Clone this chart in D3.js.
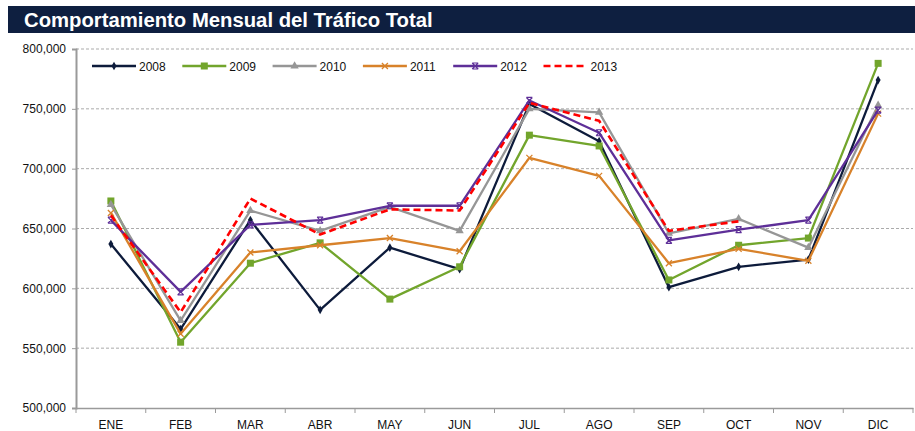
<!DOCTYPE html>
<html>
<head>
<meta charset="utf-8">
<script src="https://cdn.jsdelivr.net/npm/d3@7"></script>
<style>
  body { margin: 0; background: #fff; }
  svg { display: block; }
  text { font-family: "Liberation Sans", Arial, sans-serif; }
</style>
</head>
<body>
<svg id="chart" width="915" height="431"></svg>
<script>
// months on the x axis
const months = ["ENE", "FEB", "MAR", "ABR", "MAY", "JUN", "JUL", "AGO", "SEP", "OCT", "NOV", "DIC"];
const yTicks = [500000, 550000, 600000, 650000, 700000, 750000, 800000];

const years = ["2008", "2009", "2010", "2011", "2012", "2013"];
const v2008 = [637000, 566000, 657000, 582000, 634000, 616000, 754000, 723000, 601000, 618000, 624000, 774000];
const v2009 = [673000, 555000, 621000, 638000, 591000, 618000, 728000, 719000, 607000, 636000, 642000, 788000];
const v2010 = [670000, 573000, 665000, 648000, 668000, 648000, 750000, 747000, 646000, 658000, 634000, 753000];
const v2011 = [663000, 562000, 630000, 636000, 642000, 631000, 709000, 694000, 621000, 633000, 623000, 746000];
const v2012 = [657000, 597000, 653000, 657000, 669000, 669000, 757000, 730000, 640000, 649000, 657000, 749000];
const v2013 = [661000, 580000, 675000, 645000, 666000, 665000, 755000, 740000, 648000, 656000];

const seriesVals = [v2008, v2009, v2010, v2011, v2012, v2013];
const colors = ["#0d1b3b", "#72a52c", "#969696", "#d8822a", "#5e2f98", "#ff0000"];
const markers = ["diamond", "square", "triangle", "cross", "star", "none"];

const svg = d3.select("#chart");

// title band
svg.append("rect")
  .attr("x", 8).attr("y", 6)
  .attr("width", 907).attr("height", 27)
  .attr("fill", "#0e1f40");
svg.append("text")
  .attr("x", 24).attr("y", 27)
  .attr("fill", "#fff")
  .attr("font-size", "20.3px")
  .attr("font-weight", "bold")
  .text("Comportamiento Mensual del Tráfico Total");

const plotL = 76, plotR = 913, plotT = 49, plotB = 408;

const x = d3.scaleBand().domain(months).range([plotL, plotR]);
const y = d3.scaleLinear().domain([500000, 800000]).range([plotB, plotT]);

// grid
svg.append("g")
  .selectAll("line")
  .data(yTicks.slice(1))
  .join("line")
  .attr("x1", plotL).attr("x2", plotR)
  .attr("y1", d => y(d)).attr("y2", d => y(d))
  .attr("stroke", "#ababab")
  .attr("stroke-width", 1)
  .attr("stroke-dasharray", "3,2");

// y axis
const yAxis = svg.append("g")
  .attr("transform", "translate(" + plotL + ",0)")
  .call(d3.axisLeft(y).tickValues(yTicks).tickSize(4).tickPadding(6)
    .tickFormat(d3.format(",")));
yAxis.select(".domain").attr("stroke", "#9a9a9a").attr("stroke-width", 2);
yAxis.selectAll(".tick line").attr("stroke", "#9a9a9a");
yAxis.selectAll("text")
  .attr("font-size", "12px")
  .attr("fill", "#111")
  .attr("font-family", "Liberation Sans, Arial, sans-serif");

// x axis
const xAxis = svg.append("g")
  .attr("transform", "translate(0," + plotB + ")")
  .call(d3.axisBottom(x).tickSize(0).tickPadding(12));
xAxis.select(".domain").attr("stroke", "#9a9a9a").attr("stroke-width", 1.5);
xAxis.selectAll("text")
  .attr("font-size", "12px")
  .attr("fill", "#111")
  .attr("font-family", "Liberation Sans, Arial, sans-serif");
// boundary ticks between categories
xAxis.selectAll(".bound")
  .data(months.concat(["_end"]))
  .join("line")
  .attr("class", "bound")
  .attr("x1", (d, i) => plotL + i * x.bandwidth())
  .attr("x2", (d, i) => plotL + i * x.bandwidth())
  .attr("y1", 0).attr("y2", 5)
  .attr("stroke", "#9a9a9a");

function drawMarker(g, type, color, cx, cy) {
  if (type === "diamond") {
    g.append("path")
      .attr("d", d3.symbol(d3.symbolDiamond, 22)())
      .attr("transform", "translate(" + cx + "," + cy + ")")
      .attr("fill", color);
  } else if (type === "square") {
    g.append("rect")
      .attr("x", cx - 3.5).attr("y", cy - 3.5)
      .attr("width", 7).attr("height", 7)
      .attr("fill", color);
  } else if (type === "triangle") {
    g.append("path")
      .attr("d", d3.symbol(d3.symbolTriangle, 30)())
      .attr("transform", "translate(" + cx + "," + cy + ")")
      .attr("fill", color);
  } else if (type === "cross") {
    g.append("path")
      .attr("d", "M-3,-3L3,3M-3,3L3,-3")
      .attr("transform", "translate(" + cx + "," + cy + ")")
      .attr("stroke", color).attr("stroke-width", 1.3).attr("fill", "none");
  } else if (type === "star") {
    g.append("path")
      .attr("d", "M-3,-3L3,3M-3,3L3,-3M-3,-3L3,-3M-3,3L3,3")
      .attr("transform", "translate(" + cx + "," + cy + ")")
      .attr("stroke", color).attr("stroke-width", 1.2).attr("fill", "none");
  }
}

const line = d3.line()
  .x((d, i) => x(months[i]) + x.bandwidth() / 2)
  .y(d => y(d));

seriesVals.forEach(function(vals, s) {
  const g = svg.append("g");
  g.append("path")
    .datum(vals)
    .attr("d", line)
    .attr("fill", "none")
    .attr("stroke", colors[s])
    .attr("stroke-width", s === 5 ? 2.6 : 2.3)
    .attr("stroke-dasharray", s === 5 ? "7,4" : null)
    .attr("stroke-linejoin", "round");
  vals.forEach(function(v, i) {
    drawMarker(g, markers[s], colors[s], x(months[i]) + x.bandwidth() / 2, y(v));
  });
});

// legend
const legend = svg.append("g").attr("transform", "translate(92,66)");
years.forEach(function(yr, i) {
  const gx = i * 90.3;
  const g = legend.append("g").attr("transform", "translate(" + gx + ",0)");
  g.append("line")
    .attr("x1", 0).attr("x2", 44)
    .attr("y1", 0).attr("y2", 0)
    .attr("stroke", colors[i])
    .attr("stroke-width", 2.3)
    .attr("stroke-dasharray", i === 5 ? "7,4" : null);
  drawMarker(g, markers[i], colors[i], 22, 0);
  g.append("text")
    .attr("x", 47).attr("y", 4.5)
    .attr("font-size", "12px")
    .attr("fill", "#111")
    .text(yr);
});
</script>
</body>
</html>
